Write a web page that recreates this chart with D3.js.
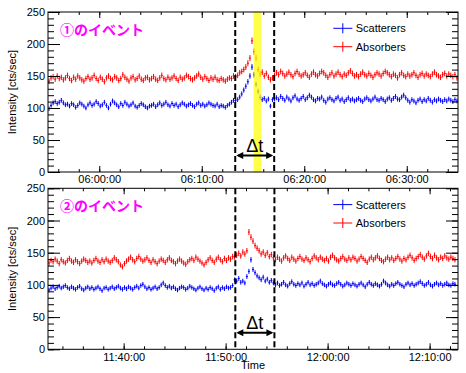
<!DOCTYPE html>
<html><head><meta charset="utf-8">
<script src="https://cdn.jsdelivr.net/npm/d3@7"></script>
<style>
body{margin:0;background:#fff}
svg{display:block}
text{font-family:"Liberation Sans",Arial,Helvetica,sans-serif;fill:#000}
</style>
</head><body>
<svg id="c" width="466" height="373"></svg>
<script>
// ---------- data ----------
const binSeconds = 12;
const yTicks = [0, 50, 100, 150, 200, 250];
const legendLabels = ["Scatterers", "Absorbers"];
const seriesColors = ["#0000ff", "#ff0000"];
const titles = ["①のイベント", "②のイベント"];
const xAxisTitle = "Time";
const yAxisTitle = "Intensity [cts/sec]";
const deltaLabel = "Δt";

const range1 = ["05:55:00", "06:35:00"];
const xTicks1 = ["06:00:00", "06:10:00", "06:20:00", "06:30:00"];
const dashed1 = ["06:13:16", "06:17:04"];
const highlight1 = ["06:15:03", "06:15:48"];

const range2 = ["11:32:35", "12:12:47"];
const xTicks2 = ["11:40:00", "11:50:00", "12:00:00", "12:10:00"];
const dashed2 = ["11:50:57", "11:54:47"];

const scatterers1 = [
 99,104,108,110,107,109,112,108,105,106, 103,107,105,101,104,108,106,103,100,105,
 108,104,106,110,107,103,105,109,104,100, 106,111,108,105,102,107,104,109,106,103,
 105,108,103,101,104,107,105,102,100,103, 104,106,102,105,108,104,106,109,105,103,
 107,104,106,102,105,108,106,103,105,107, 104,102,106,108,104,106,103,105,108,106,
 104,103,106,102,104,103,101,104,106,109, 112,
 112,113,117,122,128,134,141,150,164,152, 137,126,117,113,115,111,114,103,113,114,
 116,113,118,115,112,117,114,111,116,119, 114,112,115,118,113,116,120,117,113,111,
 115,114,117,112,109,114,116,113,111,115, 117,112,114,110,113,116,112,114,111,113,
 115,112,110,114,116,113,111,114,117,113, 112,115,113,110,114,116,112,115,118,114,
 113,117,120,116,112,109,113,111,108,112, 114,110,113,111,115,112,109,113,111,114,
 112,110,113,111,114,112,110,113,111];
const absorbers1 = [
 142,147,149,145,150,146,148,144,147,151, 146,143,148,145,150,147,144,142,146,149,
 145,147,151,146,143,148,145,141,147,150, 146,144,149,147,143,146,152,148,145,142,
 147,149,144,146,150,145,143,147,148,144, 146,149,145,143,147,151,146,144,148,145,
 147,150,146,143,148,145,147,151,149,146, 144,147,150,153,148,145,149,146,143,147,
 145,148,144,143,146,144,142,145,147,146, 150,
 149,151,155,157,160,164,170,178,205,188, 178,160,153,156,150,154,148,144,147,151,
 155,152,157,154,150,153,156,152,149,154, 157,153,150,152,155,151,148,153,156,152,
 150,154,157,155,151,148,152,155,150,153, 156,152,149,153,151,155,158,154,150,152,
 149,153,156,152,150,154,151,148,152,155, 153,150,154,157,155,152,149,153,151,147,
 152,155,151,149,153,150,152,155,151,148, 152,154,150,153,151,149,153,156,152,150,
 148,152,154,150,153,151,149,152,147];
const scatterers2 = [
 92,95,97,94,96,98,95,97,99,96, 94,97,95,93,96,98,94,92,95,97,
 94,96,93,95,97,94,91,95,96,93, 95,97,94,96,98,95,93,96,94,97,
 95,93,96,98,95,99,101,97,94,96, 93,95,97,94,96,100,103,99,96,98,
 95,97,94,92,95,97,96,93,95,98, 96,94,92,95,97,94,92,95,93,96,
 94,91,95,97,93,96,94,97,95,96, 99,
 108,106,110,104,106,103,113,121,139,124, 119,114,111,108,112,106,109,104,107,103,
 100,103,99,101,104,100,98,102,105,101, 99,102,100,103,98,101,104,100,102,99,
 101,103,106,102,100,98,101,103,100,99, 102,104,101,98,100,103,101,99,102,100,
 98,101,103,100,97,101,104,101,99,102, 100,98,101,106,103,100,98,101,99,102,
 104,101,99,97,101,103,100,102,99,101, 103,105,102,99,101,104,100,98,101,103,
 100,102,99,101,103,100,99,102,101];
const absorbers2 = [
 134,138,136,140,137,133,139,136,134,138, 141,137,135,139,136,133,137,140,138,135,
 137,134,138,141,137,135,139,136,140,137, 135,138,142,139,136,131,128,133,137,140,
 143,139,136,141,144,140,137,139,142,138, 135,139,136,133,137,140,138,135,139,142,
 138,136,133,137,140,137,134,132,136,139, 141,138,143,140,137,134,131,135,139,142,
 138,135,140,143,139,136,141,138,142,140, 144,
 143,146,149,145,151,148,153,182,174,168, 161,157,153,148,151,146,150,144,147,142,
 139,143,140,137,142,145,141,138,143,140, 137,141,144,140,138,142,139,136,141,145,
 142,139,143,140,138,141,137,143,146,142, 139,137,141,144,140,138,142,139,143,141,
 137,140,144,141,138,135,140,143,139,142, 145,141,138,136,140,143,139,142,138,141,
 144,140,137,141,139,143,146,142,138,141, 144,147,143,140,145,149,144,141,146,142,
 139,143,141,145,142,140,143,141,139];

// ---------- drawing ----------
const parseT = d3.utcParse("%H:%M:%S");
const fmtT = d3.utcFormat("%H:%M:%S");
const svg = d3.select("#c");
svg.append("rect").attr("width",466).attr("height",373).attr("fill","#fff");

const frameX = [48, 458];
const panels = [
  {top:12, bottom:172, range:range1, ticks:xTicks1, dashed:dashed1, highlight:highlight1,
   series:[scatterers1, absorbers1], title:titles[0], showXTitle:false},
  {top:188.3, bottom:349.3, range:range2, ticks:xTicks2, dashed:dashed2, highlight:null,
   series:[scatterers2, absorbers2], title:titles[1], showXTitle:true}
];

panels.forEach((p, pi) => {
  const t0 = parseT(p.range[0]), t1 = parseT(p.range[1]);
  const x = d3.scaleUtc().domain([t0, t1]).range(frameX);
  const y = d3.scaleLinear().domain([0, 250]).range([p.bottom, p.top]);
  const g = svg.append("g");
  const clipId = "clip" + pi;
  svg.append("clipPath").attr("id", clipId).append("rect")
    .attr("x", frameX[0]).attr("y", p.top).attr("width", frameX[1]-frameX[0]).attr("height", p.bottom-p.top);

  // data points with error bars
  const half = binSeconds / 2 * 1000;
  p.series.forEach((vals, si) => {
    g.append("g").attr("clip-path", `url(#${clipId})`)
      .selectAll("path").data(vals).join("path")
      .attr("fill", "none").attr("stroke", seriesColors[si]).attr("stroke-width", 1)
      .attr("d", (v, i) => {
        const tc = new Date(+t0 + (i * binSeconds) * 1000 + half);
        const e = Math.sqrt(v / 8);
        const xc = x(tc), yc = y(v);
        return `M${x(new Date(+tc - half))},${yc}H${x(new Date(+tc + half))}M${xc},${y(v + e)}V${y(v - e)}`;
      });
  });

  // highlight band
  if (p.highlight) {
    const h0 = parseT(p.highlight[0]), h1 = parseT(p.highlight[1]);
    g.append("rect").attr("x", x(h0)).attr("width", x(h1) - x(h0))
      .attr("y", p.top).attr("height", p.bottom - p.top)
      .attr("fill", "#ffff00").attr("opacity", 0.72);
  }

  // dashed lines
  const dx = p.dashed.map(s => x(parseT(s)));
  g.selectAll("line.dash").data(dx).join("line")
    .attr("x1", d => d).attr("x2", d => d).attr("y1", p.top).attr("y2", p.bottom)
    .attr("stroke", "#000").attr("stroke-width", 2).attr("stroke-dasharray", "6,3");

  // delta-t arrow
  const ay = p.bottom - 16.5;
  g.append("line").attr("x1", dx[0] + 3).attr("x2", dx[1] - 3).attr("y1", ay).attr("y2", ay)
    .attr("stroke", "#000").attr("stroke-width", 2);
  g.append("path").attr("fill", "#000")
    .attr("d", `M${dx[0]+1},${ay}L${dx[0]+8},${ay-3.5}L${dx[0]+8},${ay+3.5}Z M${dx[1]-1},${ay}L${dx[1]-8},${ay-3.5}L${dx[1]-8},${ay+3.5}Z`);
  g.append("text").attr("x", (dx[0] + dx[1]) / 2).attr("y", ay - 4)
    .attr("text-anchor", "middle").attr("font-size", 18).text(deltaLabel);

  // axes
  const majors = p.ticks.map(parseT);
  const minors = d3.utcMinute.every(2).range(t0, new Date(+t1 + 1));
  const ax = (axis) => axis.tickSizeOuter(0);
  const xb = g.append("g").attr("transform", `translate(0,${p.bottom})`)
    .call(ax(d3.axisBottom(x).tickValues(minors).tickSize(-3).tickFormat("")));
  const xbM = g.append("g").attr("transform", `translate(0,${p.bottom})`)
    .call(ax(d3.axisBottom(x).tickValues(majors).tickSize(-6).tickPadding(3.5).tickFormat(fmtT)));
  const xt = g.append("g").attr("transform", `translate(0,${p.top})`)
    .call(ax(d3.axisTop(x).tickValues(minors).tickSize(-3).tickFormat("")));
  const xtM = g.append("g").attr("transform", `translate(0,${p.top})`)
    .call(ax(d3.axisTop(x).tickValues(majors).tickSize(-6).tickFormat("")));
  const yMinor = d3.range(0, 251, 10);
  const yl = g.append("g").attr("transform", `translate(${frameX[0]},0)`)
    .call(ax(d3.axisLeft(y).tickValues(yMinor).tickSize(-6).tickFormat("")));
  const ylM = g.append("g").attr("transform", `translate(${frameX[0]},0)`)
    .call(ax(d3.axisLeft(y).tickValues(yTicks).tickSize(-12).tickPadding(3).tickFormat(d3.format("d"))));
  const yr = g.append("g").attr("transform", `translate(${frameX[1]},0)`)
    .call(ax(d3.axisRight(y).tickValues(yMinor).tickSize(-6).tickFormat("")));
  const yrM = g.append("g").attr("transform", `translate(${frameX[1]},0)`)
    .call(ax(d3.axisRight(y).tickValues(yTicks).tickSize(-12).tickFormat("")));
  [xb, xbM, xt, xtM, yl, ylM, yr, yrM].forEach(a => {
    a.select(".domain").remove();
    a.selectAll("line").attr("stroke", "#000").attr("stroke-width", 1);
    a.selectAll("text").attr("font-size", 11).attr("fill", "#000")
      .style("font-family", '"Liberation Sans",Arial,sans-serif');
  });

  // frame
  g.append("rect").attr("x", frameX[0]).attr("y", p.top)
    .attr("width", frameX[1] - frameX[0]).attr("height", p.bottom - p.top)
    .attr("fill", "none").attr("stroke", "#000").attr("stroke-width", 1);

  // y title
  const yc = (p.top + p.bottom) / 2;
  g.append("text").attr("transform", `translate(15.5,${yc}) rotate(-90)`)
    .attr("text-anchor", "middle").attr("font-size", 11).text(yAxisTitle);

  // panel title
  g.append("text").attr("x", 60).attr("y", p.top + 22.5)
    .attr("font-size", 14).attr("font-weight", "bold").attr("fill", "#ff00ff")
    .style("fill", "#ff00ff")
    .style("font-family", '"Noto Sans CJK JP","Noto Sans CJK SC",sans-serif')
    .text(p.title);

  // legend
  legendLabels.forEach((lab, li) => {
    const ly = p.top + 16.3 + li * 18.4;
    g.append("path").attr("fill", "none").attr("stroke", seriesColors[li]).attr("stroke-width", 1)
      .attr("d", `M333.3,${ly}H352.3M342.8,${ly - 5}V${ly + 5}`);
    g.append("text").attr("x", 355.7).attr("y", ly + 4).attr("font-size", 11).text(lab);
  });

  if (p.showXTitle) {
    g.append("text").attr("x", (frameX[0] + frameX[1]) / 2).attr("y", 368.5)
      .attr("text-anchor", "middle").attr("font-size", 11).text(xAxisTitle);
  }
});
</script>
</body></html>
